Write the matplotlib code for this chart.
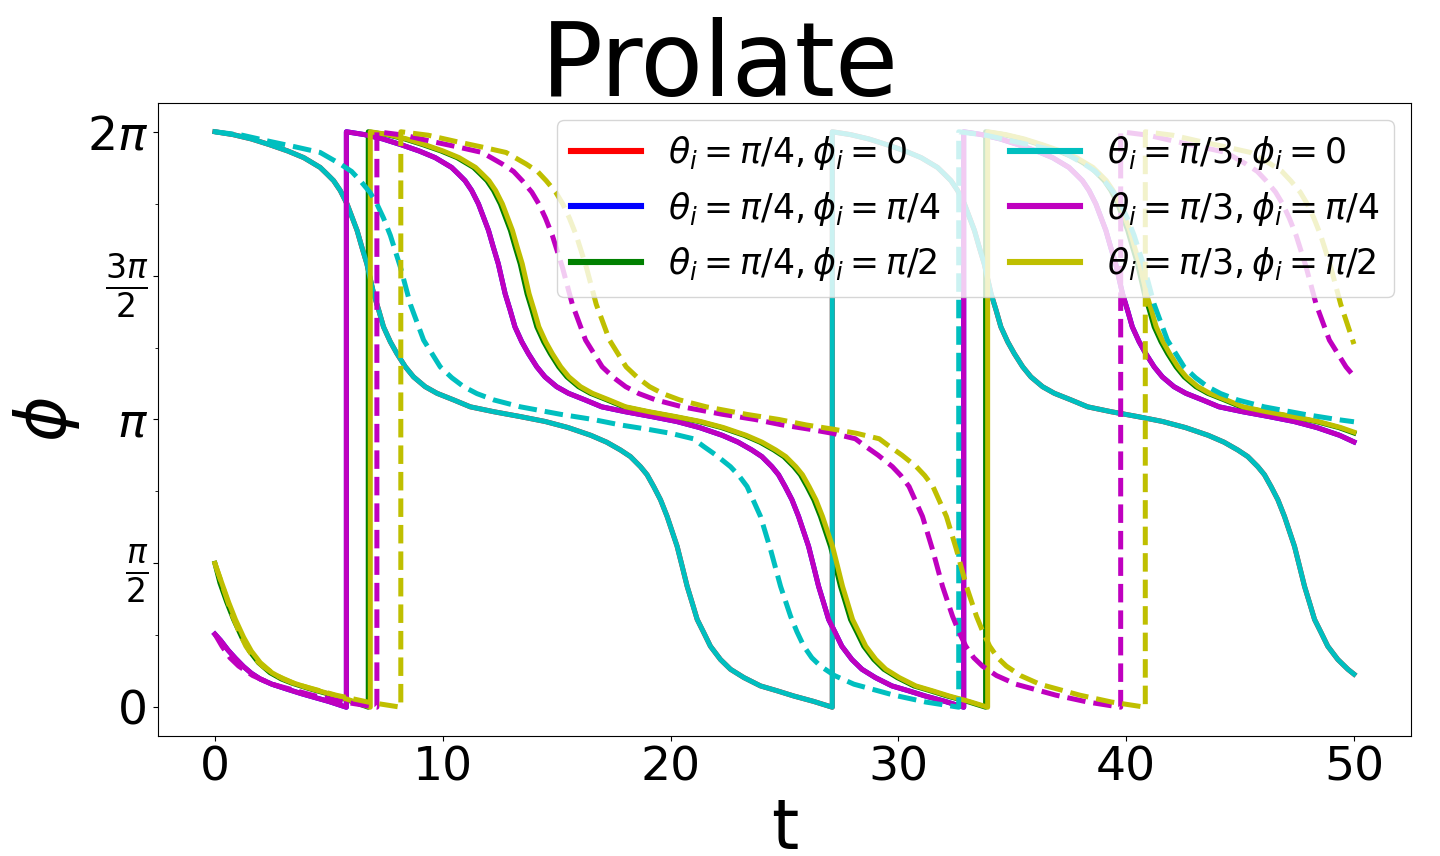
import numpy as np
import matplotlib
matplotlib.use('AGG')
import matplotlib.pyplot as plt
from matplotlib.ticker import FixedLocator, MultipleLocator

# phi values in units of pi, t in the plot's time units
# each list runs through the wraps 0 -> 2pi, so a jump is two points at one t

# theta_i = pi/3, phi_i = 0 (solid cyan)
cyan_t = [0.00, 0.80, 1.60, 2.40, 3.20, 3.90, 4.62, 4.92, 5.21, 5.50, 5.80, 6.02, 6.24, 6.45, 6.67,
          6.82, 6.97, 7.19, 7.40, 7.70, 7.99, 8.36, 8.72, 9.23, 9.75, 10.48, 11.21, 12.24, 13.41,
          14.50, 15.50, 16.50, 17.20, 17.80, 18.24, 18.68, 18.97, 19.26, 19.56, 19.85, 20.07, 20.29,
          20.51, 20.73, 20.95, 21.17, 21.46, 21.75, 22.19, 22.63, 23.22, 23.95, 24.68, 25.41, 26.29,
          27.10,
          27.10, 27.90, 28.70, 29.50, 30.30, 31.00, 31.72, 32.02, 32.31, 32.60, 32.90, 33.12, 33.34,
          33.55, 33.77, 33.92, 34.07, 34.29, 34.50, 34.80, 35.09, 35.46, 35.82, 36.33, 36.85, 37.58,
          38.31, 39.34, 40.51, 41.60, 42.60, 43.60, 44.30, 44.90, 45.34, 45.78, 46.07, 46.36, 46.66,
          46.95, 47.17, 47.39, 47.61, 47.83, 48.05, 48.27, 48.56, 48.85, 49.29, 49.73, 50.00]
cyan_phi = [2.000, 1.990, 1.975, 1.955, 1.933, 1.910, 1.876, 1.853, 1.830, 1.796, 1.749, 1.703, 1.657,
            1.599, 1.541, 1.489, 1.437, 1.380, 1.322, 1.270, 1.229, 1.183, 1.148, 1.114, 1.091, 1.068,
            1.044, 1.027, 1.010, 0.993, 0.972, 0.945, 0.921, 0.894, 0.871, 0.836, 0.808, 0.767, 0.721,
            0.663, 0.611, 0.559, 0.490, 0.420, 0.363, 0.305, 0.259, 0.212, 0.166, 0.132, 0.103, 0.074,
            0.057, 0.039, 0.020, 0.000,
            2.000, 1.990, 1.975, 1.955, 1.933, 1.910, 1.876, 1.853, 1.830, 1.796, 1.749, 1.703, 1.657,
            1.599, 1.541, 1.489, 1.437, 1.380, 1.322, 1.270, 1.229, 1.183, 1.148, 1.114, 1.091, 1.068,
            1.044, 1.027, 1.010, 0.993, 0.972, 0.945, 0.921, 0.894, 0.871, 0.836, 0.808, 0.767, 0.721,
            0.663, 0.611, 0.559, 0.490, 0.420, 0.363, 0.305, 0.259, 0.212, 0.166, 0.132, 0.115]

# theta_i = pi/3, phi_i = pi/4 (solid magenta)
magenta_t = [0.00, 0.25, 0.58, 0.90, 1.26, 1.60, 1.99, 2.50, 3.16, 3.80, 4.33, 5.00, 5.77,
             5.77, 6.57, 7.37, 8.17, 8.97, 9.67, 10.39, 10.69, 10.98, 11.27, 11.57, 11.79, 12.01,
             12.22, 12.44, 12.59, 12.74, 12.96, 13.17, 13.47, 13.76, 14.13, 14.49, 15.00, 15.52,
             16.25, 16.98, 18.01, 19.18, 20.27, 21.27, 22.27, 22.97, 23.57, 24.01, 24.45, 24.74,
             25.03, 25.33, 25.62, 25.84, 26.06, 26.28, 26.50, 26.72, 26.94, 27.23, 27.52, 27.96,
             28.40, 28.99, 29.72, 30.45, 31.18, 32.06, 32.87,
             32.87, 33.67, 34.47, 35.27, 36.07, 36.77, 37.49, 37.79, 38.08, 38.37, 38.67, 38.89,
             39.11, 39.32, 39.54, 39.69, 39.84, 40.06, 40.27, 40.57, 40.86, 41.23, 41.59, 42.10,
             42.62, 43.35, 44.08, 45.11, 46.28, 47.37, 48.37, 49.37, 50.00]
magenta_phi = [0.254, 0.232, 0.198, 0.170, 0.141, 0.118, 0.098, 0.080, 0.063, 0.047, 0.035, 0.020, 0.000,
               2.000, 1.990, 1.975, 1.955, 1.933, 1.910, 1.876, 1.853, 1.830, 1.796, 1.749, 1.703, 1.657,
               1.599, 1.541, 1.489, 1.437, 1.380, 1.322, 1.270, 1.229, 1.183, 1.148, 1.114, 1.091, 1.068,
               1.044, 1.027, 1.010, 0.993, 0.972, 0.945, 0.921, 0.894, 0.871, 0.836, 0.808, 0.767, 0.721,
               0.663, 0.611, 0.559, 0.490, 0.420, 0.363, 0.305, 0.259, 0.212, 0.166, 0.132, 0.103, 0.074,
               0.057, 0.039, 0.020, 0.000,
               2.000, 1.990, 1.975, 1.955, 1.933, 1.910, 1.876, 1.853, 1.830, 1.796, 1.749, 1.703, 1.657,
               1.599, 1.541, 1.489, 1.437, 1.380, 1.322, 1.270, 1.229, 1.183, 1.148, 1.114, 1.091, 1.068,
               1.044, 1.027, 1.010, 0.993, 0.972, 0.945, 0.922]

# theta_i = pi/3, phi_i = pi/2 (solid yellow)
yellow_t = [0.00, 0.30, 0.60, 0.90, 1.26, 1.60, 1.99, 2.50, 3.00, 3.45, 4.20, 4.92, 5.80, 6.82,
            6.82, 7.62, 8.42, 9.22, 10.02, 10.72, 11.44, 11.74, 12.03, 12.32, 12.62, 12.84, 13.06,
            13.27, 13.49, 13.64, 13.79, 14.01, 14.22, 14.52, 14.81, 15.18, 15.54, 16.05, 16.57,
            17.30, 18.03, 19.06, 20.23, 21.32, 22.32, 23.32, 24.02, 24.62, 25.06, 25.50, 25.79,
            26.08, 26.38, 26.67, 26.89, 27.11, 27.33, 27.55, 27.77, 27.99, 28.28, 28.57, 29.01,
            29.45, 30.04, 30.77, 31.50, 32.23, 33.11, 33.92,
            33.92, 34.72, 35.52, 36.32, 37.12, 37.82, 38.54, 38.84, 39.13, 39.42, 39.72, 39.94,
            40.16, 40.37, 40.59, 40.74, 40.89, 41.11, 41.32, 41.62, 41.91, 42.28, 42.64, 43.15,
            43.67, 44.40, 45.13, 46.16, 47.33, 48.42, 49.42, 50.00]
yellow_phi = [0.500, 0.432, 0.365, 0.305, 0.243, 0.195, 0.155, 0.120, 0.098, 0.084, 0.065, 0.049, 0.028,
              0.000,
              2.000, 1.990, 1.975, 1.955, 1.933, 1.910, 1.876, 1.853, 1.830, 1.796, 1.749, 1.703, 1.657,
              1.599, 1.541, 1.489, 1.437, 1.380, 1.322, 1.270, 1.229, 1.183, 1.148, 1.114, 1.091, 1.068,
              1.044, 1.027, 1.010, 0.993, 0.972, 0.945, 0.921, 0.894, 0.871, 0.836, 0.808, 0.767, 0.721,
              0.663, 0.611, 0.559, 0.490, 0.420, 0.363, 0.305, 0.259, 0.212, 0.166, 0.132, 0.103, 0.074,
              0.057, 0.039, 0.020, 0.000,
              2.000, 1.990, 1.975, 1.955, 1.933, 1.910, 1.876, 1.853, 1.830, 1.796, 1.749, 1.703, 1.657,
              1.599, 1.541, 1.489, 1.437, 1.380, 1.322, 1.270, 1.229, 1.183, 1.148, 1.114, 1.091, 1.068,
              1.044, 1.027, 1.010, 0.993, 0.972, 0.956]

# theta_i = pi/4 curves: red and blue sit under cyan and magenta, green runs just ahead of yellow
red_t, red_phi = cyan_t, cyan_phi
blue_t, blue_phi = magenta_t, magenta_phi
green_t = [0.00, 0.22, 0.52, 0.82, 1.18, 1.52, 1.91, 2.42, 2.92, 3.37, 4.12, 4.84, 5.72, 6.73,
           6.73, 7.53, 8.33, 9.13, 9.93, 10.63, 11.35, 11.65, 11.94, 12.23, 12.53, 12.75, 12.97,
           13.18, 13.40, 13.55, 13.70, 13.92, 14.13, 14.43, 14.72, 15.09, 15.45, 15.96, 16.48,
           17.21, 17.94, 18.97, 20.14, 21.23, 22.23, 23.23, 23.93, 24.53, 24.97, 25.41, 25.70,
           25.99, 26.29, 26.58, 26.80, 27.02, 27.24, 27.46, 27.68, 27.90, 28.19, 28.48, 28.92,
           29.36, 29.95, 30.68, 31.41, 32.14, 33.02, 33.83,
           33.83, 34.63, 35.43, 36.23, 37.03, 37.73, 38.45, 38.75, 39.04, 39.33, 39.63, 39.85,
           40.07, 40.28, 40.50, 40.65, 40.80, 41.02, 41.23, 41.53, 41.82, 42.19, 42.55, 43.06,
           43.58, 44.31, 45.04, 46.07, 47.24, 48.33, 49.33, 50.00]
green_phi = [0.500, 0.432, 0.365, 0.305, 0.243, 0.195, 0.155, 0.120, 0.098, 0.084, 0.065, 0.049, 0.028,
             0.000,
             2.000, 1.990, 1.975, 1.955, 1.933, 1.910, 1.876, 1.853, 1.830, 1.796, 1.749, 1.703, 1.657,
             1.599, 1.541, 1.489, 1.437, 1.380, 1.322, 1.270, 1.229, 1.183, 1.148, 1.114, 1.091, 1.068,
             1.044, 1.027, 1.010, 0.993, 0.972, 0.945, 0.921, 0.894, 0.871, 0.836, 0.808, 0.767, 0.721,
             0.663, 0.611, 0.559, 0.490, 0.420, 0.363, 0.305, 0.259, 0.212, 0.166, 0.132, 0.103, 0.074,
             0.057, 0.039, 0.020, 0.000,
             2.000, 1.990, 1.975, 1.955, 1.933, 1.910, 1.876, 1.853, 1.830, 1.796, 1.749, 1.703, 1.657,
             1.599, 1.541, 1.489, 1.437, 1.380, 1.322, 1.270, 1.229, 1.183, 1.148, 1.114, 1.091, 1.068,
             1.044, 1.027, 1.010, 0.993, 0.972, 0.953]

# dashed curves (no legend entry)
cyan_dash_t = [0.00, 1.20, 2.43, 3.50, 4.62, 5.50, 6.00, 6.38, 6.80, 7.11, 7.40, 7.70, 8.14, 8.58,
               9.16, 9.89, 10.40, 10.92, 11.50, 12.24, 13.41, 15.17, 16.60, 17.80, 19.00, 20.00,
               21.00, 21.46, 22.00, 22.63, 23.00, 23.36, 23.95, 24.39, 24.83, 25.27, 25.55, 25.85,
               26.20, 26.58, 27.20, 28.05, 29.80, 31.20, 32.65,
               32.65, 33.85, 35.08, 36.15, 37.27, 38.15, 38.65, 39.03, 39.45, 39.76, 40.05, 40.35,
               40.79, 41.23, 41.81, 42.54, 43.05, 43.57, 44.15, 44.89, 46.06, 47.82, 49.25, 50.00]
cyan_dash_phi = [2.000, 1.988, 1.966, 1.948, 1.928, 1.888, 1.862, 1.830, 1.790, 1.749, 1.700, 1.640,
                 1.530, 1.400, 1.276, 1.183, 1.145, 1.114, 1.090, 1.068, 1.044, 1.018, 1.000, 0.981,
                 0.966, 0.952, 0.933, 0.906, 0.876, 0.836, 0.805, 0.767, 0.663, 0.548, 0.420, 0.316,
                 0.262, 0.212, 0.172, 0.143, 0.110, 0.080, 0.042, 0.018, 0.000,
                 2.000, 1.988, 1.966, 1.948, 1.928, 1.888, 1.862, 1.830, 1.790, 1.749, 1.700, 1.640,
                 1.530, 1.400, 1.276, 1.183, 1.145, 1.114, 1.090, 1.068, 1.044, 1.018, 1.000, 0.992]

magenta_dash_t = [0.00, 0.31, 0.66, 1.04, 1.66, 2.51, 4.26, 5.66, 7.11,
                  7.11, 8.31, 9.54, 10.61, 11.73, 12.61, 13.11, 13.49, 13.91, 14.22, 14.51, 14.81,
                  15.25, 15.69, 16.27, 17.00, 17.51, 18.03, 18.61, 19.35, 20.52, 22.28, 23.71, 24.91,
                  26.11, 27.11, 28.11, 28.57, 29.11, 29.74, 30.11, 30.47, 31.06, 31.50, 31.94, 32.38,
                  32.66, 32.96, 33.31, 33.69, 34.31, 35.16, 36.91, 38.31, 39.76,
                  39.76, 40.96, 42.19, 43.26, 44.38, 45.26, 45.76, 46.14, 46.56, 46.87, 47.16, 47.46,
                  47.90, 48.34, 48.92, 49.65, 50.00]
magenta_dash_phi = [0.254, 0.212, 0.172, 0.143, 0.110, 0.080, 0.042, 0.018, 0.000,
                    2.000, 1.988, 1.966, 1.948, 1.928, 1.888, 1.862, 1.830, 1.790, 1.749, 1.700, 1.640,
                    1.530, 1.400, 1.276, 1.183, 1.145, 1.114, 1.090, 1.068, 1.044, 1.018, 1.000, 0.981,
                    0.966, 0.952, 0.933, 0.906, 0.876, 0.836, 0.805, 0.767, 0.663, 0.548, 0.420, 0.316,
                    0.262, 0.212, 0.172, 0.143, 0.110, 0.080, 0.042, 0.018, 0.000,
                    2.000, 1.988, 1.966, 1.948, 1.928, 1.888, 1.862, 1.830, 1.790, 1.749, 1.700, 1.640,
                    1.530, 1.400, 1.276, 1.183, 1.150]

yellow_dash_t = [0.00, 0.34, 0.78, 1.06, 1.36, 1.71, 2.09, 2.71, 3.56, 5.31, 6.71, 8.16,
                 8.16, 9.36, 10.59, 11.66, 12.78, 13.66, 14.16, 14.54, 14.96, 15.27, 15.56, 15.86,
                 16.30, 16.74, 17.32, 18.05, 18.56, 19.08, 19.66, 20.40, 21.57, 23.33, 24.76, 25.96,
                 27.16, 28.16, 29.16, 29.62, 30.16, 30.79, 31.16, 31.52, 32.11, 32.55, 32.99, 33.43,
                 33.71, 34.01, 34.36, 34.74, 35.36, 36.21, 37.96, 39.36, 40.84,
                 40.84, 42.04, 43.27, 44.34, 45.46, 46.34, 46.84, 47.22, 47.64, 47.95, 48.24, 48.54,
                 48.98, 49.42, 50.00]
yellow_dash_phi = [0.500, 0.420, 0.316, 0.262, 0.212, 0.172, 0.143, 0.110, 0.080, 0.042, 0.018, 0.000,
                   2.000, 1.988, 1.966, 1.948, 1.928, 1.888, 1.862, 1.830, 1.790, 1.749, 1.700, 1.640,
                   1.530, 1.400, 1.276, 1.183, 1.145, 1.114, 1.090, 1.068, 1.044, 1.018, 1.000, 0.981,
                   0.966, 0.952, 0.933, 0.906, 0.876, 0.836, 0.805, 0.767, 0.663, 0.548, 0.420, 0.316,
                   0.262, 0.212, 0.172, 0.143, 0.110, 0.080, 0.042, 0.018, 0.000,
                   2.000, 1.988, 1.966, 1.948, 1.928, 1.888, 1.862, 1.830, 1.790, 1.749, 1.700, 1.640,
                   1.530, 1.400, 1.262]

labels = [r'$\theta_i = \pi/4, \phi_i = 0$',
          r'$\theta_i = \pi/4, \phi_i = \pi/4$',
          r'$\theta_i = \pi/4, \phi_i = \pi/2$',
          r'$\theta_i = \pi/3, \phi_i = 0$',
          r'$\theta_i = \pi/3, \phi_i = \pi/4$',
          r'$\theta_i = \pi/3, \phi_i = \pi/2$']

ytick_vals = [0, 0.5, 1.0, 1.5, 2.0]
ytick_labels = ['0', r'$\frac{\pi}{2}$', r'$\pi$', r'$\frac{3\pi}{2}$', r'$2\pi$']

lw = 3.6

fig = plt.figure(figsize=(14.4, 8.56), dpi=100)
ax = fig.add_axes([0.1097, 0.1402, 0.8701, 0.7395])

solid = [(red_t, red_phi, 'r'), (blue_t, blue_phi, 'b'), (green_t, green_phi, 'g'),
         (cyan_t, cyan_phi, 'c'), (magenta_t, magenta_phi, 'm'), (yellow_t, yellow_phi, 'y')]
for (t, phi, col), lab in zip(solid, labels):
    ax.plot(t, np.array(phi) * np.pi, color=col, lw=lw, label=lab)

dashed = [(cyan_dash_t, cyan_dash_phi, 'c'), (magenta_dash_t, magenta_dash_phi, 'm'),
          (yellow_dash_t, yellow_dash_phi, 'y')]
for t, phi, col in dashed:
    ax.plot(t, np.array(phi) * np.pi, color=col, lw=lw, ls='--')

ax.yaxis.set_major_locator(FixedLocator(np.array(ytick_vals) * np.pi))
ax.set_yticklabels(ytick_labels)
ax.yaxis.set_minor_locator(MultipleLocator(np.pi / 4))
ax.tick_params(axis='both', which='major', labelsize=34)

ax.set_xlabel('t', fontsize=50)
ax.set_ylabel(r'$\phi$', fontsize=50)
# title is centred on the figure, not on the axes
fig.text(0.5, 0.8879, 'Prolate', fontsize=74, ha='center', va='baseline')

leg = ax.legend(loc='upper right', ncol=2, fontsize=25)
for h in leg.get_lines():
    h.set_linewidth(4.4)

fig.savefig('out.png', dpi=100)
